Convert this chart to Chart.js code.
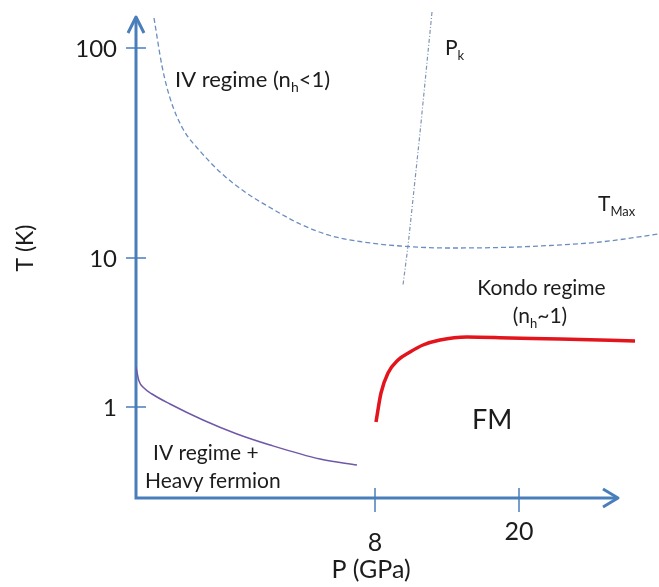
<!DOCTYPE html>
<html>
<head>
<meta charset="utf-8">
<script src="https://cdn.jsdelivr.net/npm/chart.js@4.4.1/dist/chart.umd.min.js"></script>
<style>
  html, body { margin: 0; padding: 0; background: #fff; }
  #wrap { width: 659px; height: 587px; position: relative; }
</style>
</head>
<body>
<div id="wrap"><canvas id="phase"></canvas></div>
<script>
// Schematic P-T phase diagram. The diagram is not to scale, so everything
// lives in plain schematic axis units; the tick labels carry the real P and T.

const xTickPos = [23.9, 38.3];
const xTickLabels = ['8', '20'];
const yTickPos = [9.1, 24.0, 45.0];
const yTickLabels = ['1', '10', '100'];

// T_Max crossover (dashed)
const tmaxX = [1.8, 2.6, 3.4, 4.7, 6.4, 8.4, 10.9, 13.4, 16.4, 19.4, 22.4, 26.4, 31.4, 36.4, 41.4, 46.4, 52.3];
const tmaxY = [48.0, 43.2, 40.0, 36.9, 34.7, 32.6, 30.6, 29.05, 27.4, 26.25, 25.65, 25.2, 25.0, 25.05, 25.25, 25.6, 26.4];

// P_k line (dash-dot)
const pkX = [29.6, 28.4, 27.2, 26.7];
const pkY = [48.6, 36.5, 25.2, 21.3];

// FM ordering boundary (red)
const fmX = [24.0, 24.5, 25.2, 26.2, 27.4, 28.7, 30.4, 33.1, 37.4, 42.4, 49.9];
const fmY = [7.6, 10.5, 12.5, 13.8, 14.6, 15.3, 15.8, 16.1, 16.0, 15.9, 15.7];

// IV + heavy fermion boundary (purple)
const hfX = [0.0, 0.3, 0.8, 1.6, 3.4, 6.7, 10.1, 13.4, 18.4, 22.1];
const hfY = [13.1, 11.7, 11.0, 10.4, 9.4, 7.8, 6.4, 5.3, 3.9, 3.3];

const axisColor = '#4a7ebb';
const textColor = '#1c1c1c';
const fontFamily = 'Lato, "Open Sans", sans-serif';

function toPoints(xs, ys) {
    return xs.map((x, i) => ({ x: x, y: ys[i] }));
}

// text pieces: [string, isSubscript]
function drawRich(ctx, parts, x, y, size, align) {
    const subSize = Math.round(size * 0.62);
    let width = 0;
    parts.forEach(([t, sub]) => {
        ctx.font = `${sub ? subSize : size}px ${fontFamily}`;
        width += ctx.measureText(t).width;
    });
    let cx = align === 'center' ? x - width / 2 : x;
    ctx.textAlign = 'left';
    ctx.textBaseline = 'alphabetic';
    parts.forEach(([t, sub]) => {
        ctx.font = `${sub ? subSize : size}px ${fontFamily}`;
        ctx.fillText(t, cx, sub ? y + size * 0.22 : y);
        cx += ctx.measureText(t).width;
    });
}

// labels anchored in axis units (left/center of baseline)
const notes = [
    { parts: [['IV regime (n', false], ['h', true], ['<1)', false]], x: 3.9, y: 41.1, size: 22, align: 'left' },
    { parts: [['P', false], ['k', true]], x: 30.9, y: 44.3, size: 21, align: 'left' },
    { parts: [['T', false], ['Max', true]], x: 46.2, y: 28.7, size: 21, align: 'left' },
    { parts: [['Kondo regime', false]], x: 40.55, y: 20.3, size: 21, align: 'center' },
    { parts: [['(n', false], ['h', true], ['~1)', false]], x: 40.4, y: 17.5, size: 21, align: 'center' },
    { parts: [['FM', false]], x: 33.6, y: 6.9, size: 27, align: 'left' },
    { parts: [['IV regime +', false]], x: 1.7, y: 3.8, size: 21, align: 'left' },
    { parts: [['Heavy fermion', false]], x: 0.9, y: 1.0, size: 21, align: 'left' }
];

const axesPlugin = {
    id: 'schematicAxes',
    beforeDatasetsDraw(chart) {
        const { ctx, scales: { x, y } } = chart;
        const x0 = x.getPixelForValue(0);
        const y0 = y.getPixelForValue(0);
        const xEnd = x.getPixelForValue(48.2);
        const yEnd = y.getPixelForValue(48.1);

        ctx.save();
        ctx.strokeStyle = axisColor;
        ctx.lineWidth = 3;
        ctx.lineJoin = 'round';

        // axis lines
        ctx.beginPath();
        ctx.moveTo(x0, y0 + 1.5);
        ctx.lineTo(x0, yEnd + 2);
        ctx.moveTo(x0 - 1.5, y0);
        ctx.lineTo(xEnd - 2, y0);
        ctx.stroke();

        // arrow heads
        ctx.beginPath();
        ctx.moveTo(x0 - 8, yEnd + 16);
        ctx.lineTo(x0, yEnd);
        ctx.lineTo(x0 + 8, yEnd + 16);
        ctx.moveTo(xEnd - 15, y0 - 9);
        ctx.lineTo(xEnd, y0);
        ctx.lineTo(xEnd - 15, y0 + 9);
        ctx.stroke();

        // tick marks straddle the axis
        ctx.lineWidth = 1.5;
        ctx.beginPath();
        yTickPos.forEach(v => {
            const py = y.getPixelForValue(v);
            ctx.moveTo(x0 - 10, py);
            ctx.lineTo(x0 + 10, py);
        });
        xTickPos.forEach(v => {
            const px = x.getPixelForValue(v);
            ctx.moveTo(px, y0 - 10);
            ctx.lineTo(px, y0 + 14);
        });
        ctx.stroke();
        ctx.restore();
    },
    afterDraw(chart) {
        const { ctx, scales: { x, y } } = chart;
        const x0 = x.getPixelForValue(0);
        const y0 = y.getPixelForValue(0);

        ctx.save();
        ctx.fillStyle = textColor;

        // tick labels
        ctx.font = `24px ${fontFamily}`;
        ctx.textAlign = 'right';
        ctx.textBaseline = 'middle';
        yTickPos.forEach((v, i) => {
            ctx.fillText(yTickLabels[i], x0 - 19, y.getPixelForValue(v) + 1);
        });
        const xLabelDrop = [45, 34];
        ctx.font = `25px ${fontFamily}`;
        ctx.textAlign = 'center';
        xTickPos.forEach((v, i) => {
            ctx.fillText(xTickLabels[i], x.getPixelForValue(v), y0 + xLabelDrop[i]);
        });

        // axis titles
        ctx.font = `25px ${fontFamily}`;
        ctx.fillText('P (GPa)', x.getPixelForValue(23.5), y0 + 72);
        ctx.save();
        ctx.translate(26, y.getPixelForValue(25.0));
        ctx.rotate(-Math.PI / 2);
        ctx.font = `23px ${fontFamily}`;
        ctx.fillText('T (K)', 0, 0);
        ctx.restore();

        notes.forEach(n => {
            drawRich(ctx, n.parts, x.getPixelForValue(n.x), y.getPixelForValue(n.y), n.size, n.align);
        });
        ctx.restore();
    }
};

new Chart(document.getElementById('phase'), {
    type: 'scatter',
    data: {
        datasets: [
            {
                label: 'T_Max',
                data: toPoints(tmaxX, tmaxY),
                showLine: true,
                borderColor: '#6b8dc0',
                borderWidth: 1.3,
                borderDash: [5, 3],
                cubicInterpolationMode: 'monotone',
                pointRadius: 0
            },
            {
                label: 'P_k',
                data: toPoints(pkX, pkY),
                showLine: true,
                borderColor: '#7f95b5',
                borderWidth: 1.2,
                borderDash: [4, 2, 1, 2],
                tension: 0,
                pointRadius: 0
            },
            {
                label: 'FM',
                data: toPoints(fmX, fmY),
                showLine: true,
                borderColor: '#e3141c',
                borderWidth: 3.5,
                cubicInterpolationMode: 'monotone',
                pointRadius: 0
            },
            {
                label: 'IV + heavy fermion',
                data: toPoints(hfX, hfY),
                showLine: true,
                borderColor: '#7058a8',
                borderWidth: 1.5,
                cubicInterpolationMode: 'monotone',
                pointRadius: 0
            }
        ]
    },
    options: {
        responsive: true,
        maintainAspectRatio: false,
        animation: false,
        layout: { padding: { left: 136, right: 0, top: 0, bottom: 89 } },
        plugins: {
            legend: { display: false },
            tooltip: { enabled: false }
        },
        scales: {
            x: { type: 'linear', display: false, min: 0, max: 52.3 },
            y: { type: 'linear', display: false, min: 0, max: 49.8 }
        }
    },
    plugins: [axesPlugin]
});
</script>
</body>
</html>
